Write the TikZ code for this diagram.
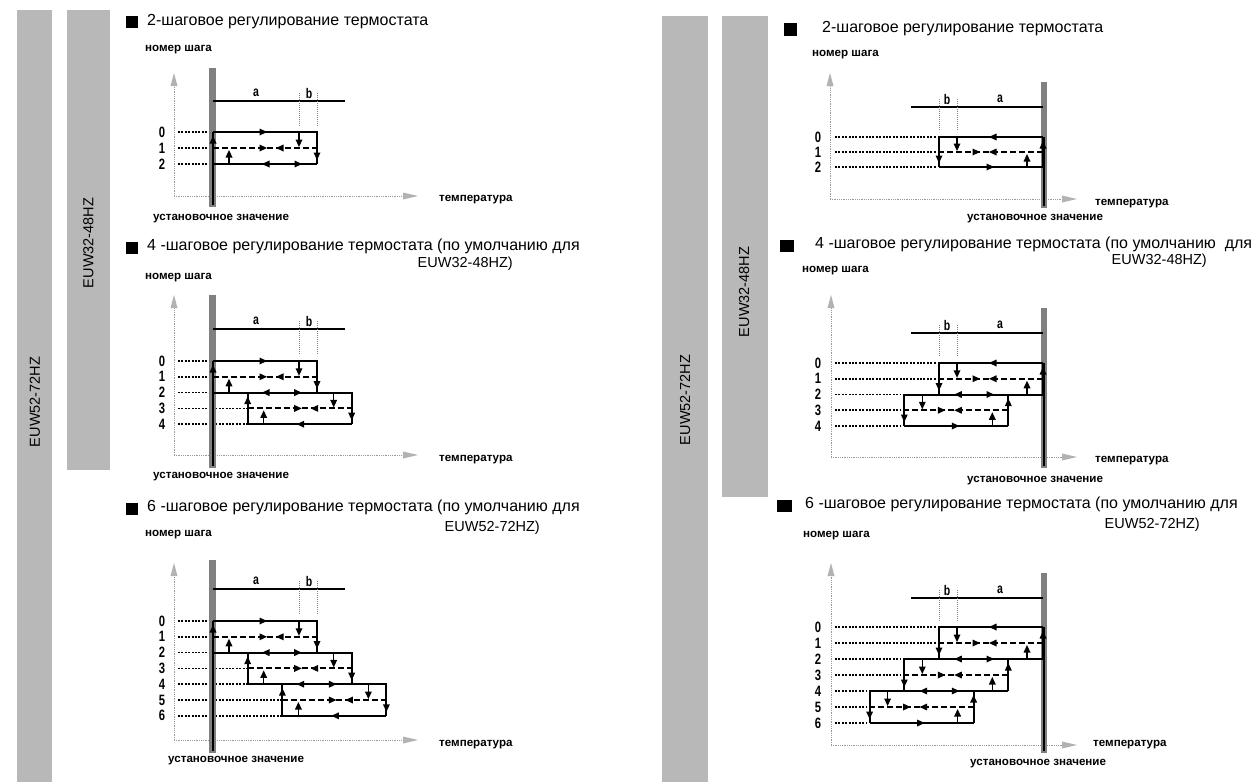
\documentclass[tikz,border=0pt]{standalone}
\usepackage{graphicx}
\usepackage{fontspec}
\setmainfont{Liberation Sans}
\def\dD{34.7}
\newcommand\arR[2]{\fill (#1+4,#2) -- ++(-7.5,-3.5) -- ++(0,7) -- cycle;}
\newcommand\arL[2]{\fill (#1-4,#2) -- ++(7.5,-3.5) -- ++(0,7) -- cycle;}
\newcommand\arU[2]{\fill (#1,#2-4) -- ++(-3.5,7.5) -- ++(7,0) -- cycle;}
\newcommand\arD[2]{\fill (#1,#2+4) -- ++(-3.5,-7.5) -- ++(7,0) -- cycle;}
\newcommand\nar[1]{\scalebox{0.75}[1]{#1}}
\newcommand\setdiag[6]{\def\dN{#1}\def\dRz{#2}\def\dDy{#3}\def\dTl{#4}\def\dBt{#5}\def\dBb{#6}}
\newcommand\axes[4]{%
 \draw[axisl] (#1,#3) -- (#1,#2+10);
 \fill[axhead] (#1,#2) -- ++(-3.5,13) -- ++(7,0) -- cycle;
 \draw[axisl] (#1,#3) -- (#4-10,#3);
 \fill[axhead] (#4,#3) -- ++(-15,-3.5) -- ++(0,7) -- cycle;}
\newcommand\core{%
 \pgfmathtruncatemacro\dNm{\dN-1}%
 \fill[setbar] (209,\dBt) rectangle (215.5,\dBb);
 \draw[loopline] (212.5,\dRz) -- (212.5,\dBb-2);
 \draw[aline] (213,\dTl) -- (345,\dTl);
 \draw[bdot] (299,\dTl-8) -- (299,\dRz-6);
 \draw[bdot] (317,\dTl-8) -- (317,\dRz-6);
 \node[ab] (la\dTl) at (256,\dTl-8) {\nar{a}};
 \node[ab] (lb\dTl) at (309,\dTl-8) {\nar{b}};
 \foreach \k in {0,...,\dNm}{%
  \pgfmathsetmacro\xL{213+\k*\dD}%
  \pgfmathsetmacro\xR{317+\k*\dD}%
  \pgfmathsetmacro\yt{\dRz+2*\k*\dDy}%
  \pgfmathsetmacro\ym{\dRz+(2*\k+1)*\dDy}%
  \pgfmathsetmacro\yb{\dRz+(2*\k+2)*\dDy}%
  \pgfmathsetmacro\xLs{\k>0 ? \xL-\dD : \xL}%
  \draw[loopline] (\xLs,\yt) -- (\xR,\yt) -- (\xR,\yb);
  \draw[loopline] (\xL,\yb) -- (\xL,\yt);
  \draw[dashline] (\xL,\ym) -- (\xR,\ym);
  \draw[stem] (299+\k*\dD,\yt) -- (299+\k*\dD,\ym-5);
  \arD{299+\k*\dD}{\ym-5}
  \draw[stem] (229+\k*\dD,\yb) -- (229+\k*\dD,\ym+6);
  \arU{229+\k*\dD}{\ym+6}
  \arR{263+\k*\dD}{\yt}
  \ifnum\k>0 \arL{266+\k*\dD-\dD}{\yt}\fi
  \arR{263+\k*\dD}{\ym}
  \arL{280+\k*\dD}{\ym}
  \arD{\xR}{\yb-8}
  \arU{\xL}{\yt+8}
 }%
 \pgfmathsetmacro\xL{213+\dNm*\dD}%
 \pgfmathsetmacro\xR{317+\dNm*\dD}%
 \pgfmathsetmacro\yb{\dRz+2*\dN*\dDy}%
 \draw[loopline] (\xL,\yb) -- (\xR,\yb);
 \arL{266+\dNm*\dD}{\yb}
}
\newcommand\rowsL{%
 \pgfmathtruncatemacro\dRn{2*\dN}%
 \foreach \r in {0,...,\dRn}{%
  \pgfmathsetmacro\yy{\dRz+\r*\dDy}%
  \pgfmathsetmacro\xe{213+max(0,ceil(\r/2)-1)*\dD}%
  \draw[dotline] (178,\yy) -- (\xe,\yy);
  \node[num] (n\dRz-\r) at (162,\yy) {\nar{\r}};
 }}
\newcommand\rowsR{%
 \pgfmathtruncatemacro\dRn{2*\dN}%
 \foreach \r in {0,...,\dRn}{%
  \pgfmathsetmacro\yy{\dRz+\r*\dDy}%
  \pgfmathsetmacro\xe{1256-317-min(\dN-1,floor(\r/2))*\dD-3}%
  \draw[dotline] (835,\yy) -- (\xe,\yy);
  \node[num] (m\dRz-\r) at (818,\yy) {\nar{\r}};
 }}
\tikzset{
 loopline/.style={line width=2pt},
 dashline/.style={line width=2pt, dash pattern=on 6pt off 3pt},
 dotline/.style={line width=1.7pt, dash pattern=on 2pt off 1.4pt},
 stem/.style={line width=1.1pt},
 aline/.style={line width=2.6pt},
 bdot/.style={draw=gray, line width=0.7pt, dash pattern=on 1pt off 1pt},
 axisl/.style={draw=gray!80, line width=0.8pt, dash pattern=on 1pt off 0.8pt},
 axhead/.style={fill=gray!60},
 setbar/.style={fill=black!50},
 sidebar/.style={fill=black!28},
 ttl/.style={anchor=mid west, inner sep=0pt, font=\fontsize{16}{18}\selectfont},
 ttlr/.style={anchor=mid east, inner sep=0pt, font=\fontsize{14.5}{18}\selectfont},
 lbl/.style={anchor=mid west, inner sep=0pt, font=\bfseries\fontsize{11.6}{14}\selectfont},
 num/.style={inner sep=0pt, font=\bfseries\fontsize{15}{17}\selectfont},
 ab/.style={inner sep=0pt, font=\bfseries\fontsize{14}{16}\selectfont},
 side/.style={rotate=90, inner sep=0pt, font=\fontsize{14.5}{16}\selectfont, text=black},
}
\begin{document}
\begin{tikzpicture}[x=1pt,y=-1pt]
\useasboundingbox (0,0) rectangle (1255,782);
\fill[white] (0,0) rectangle (1255,782);
% side bars
\fill[sidebar] (17,10) rectangle (52,782);
\fill[sidebar] (67,10) rectangle (110,470);
\fill[sidebar] (662,16) rectangle (708,782);
\fill[sidebar] (722,16) rectangle (768,497);
\node[side] (s1) at (35,402) {EUW52-72HZ};
\node[side] (s2) at (88.5,243) {EUW32-48HZ};
\node[side] (s3) at (685,400) {EUW52-72HZ};
\node[side] (s4) at (744,292) {EUW32-48HZ};
% ---- left 2-step
\fill (126,16) rectangle (138,28);
\node[ttl] (t1) at (147,23) {2-шаговое регулирование термостата};
\node[lbl] (h1) at (145,49) {номер шага};
\axes{174}{73}{196}{418}
\node[lbl] (T1) at (439,199) {температура};
\node[lbl] (S1) at (153,218) {установочное значение};
\setdiag{1}{132}{16}{101}{68}{207}
\rowsL
\core
\arR{298}{164}
% ---- left 4-step
\fill (126,242) rectangle (138,254);
\node[ttl] (t2) at (147,248) {4 -шаговое регулирование термостата (по умолчанию для};
\node[ttlr] (t2b) at (513,265) {EUW32-48HZ)};
\node[lbl] (h2) at (145,277) {номер шага};
\axes{174}{295}{455}{418}
\node[lbl] (T2) at (439,459) {температура};
\node[lbl] (S2) at (153,476) {установочное значение};
\setdiag{2}{361}{15.8}{329}{295}{468}
\rowsL
\core
% ---- left 6-step
\fill (126,503) rectangle (138,515);
\node[ttl] (t3) at (147,509) {6 -шаговое регулирование термостата (по умолчанию для};
\node[ttlr] (t3b) at (540,529) {EUW52-72HZ)};
\node[lbl] (h3) at (145,534) {номер шага};
\axes{174}{563}{740}{418}
\node[lbl] (T3) at (439,744) {температура};
\node[lbl] (S3) at (168,760) {установочное значение};
\setdiag{3}{621}{15.8}{589}{560}{753}
\rowsL
\core
% ---- right 2-step
\fill (784,23) rectangle (797,36);
\node[ttl] (t4) at (822,30) {2-шаговое регулирование термостата};
\node[lbl] (h4) at (812,54) {номер шага};
\axes{830}{73}{199}{1077}
\node[lbl] (T4) at (1095,203) {температура};
\node[lbl] (S4) at (967,218) {установочное значение};
\setdiag{1}{137}{15}{107}{82}{208}
\rowsR
\begin{scope}[xshift=1256pt,xscale=-1]\core\end{scope}
% ---- right 4-step
\fill (780,240) rectangle (794,252);
\node[ttl] (t5) at (815,246) {4 -шаговое регулирование термостата (по умолчанию\ \ для};
\node[ttlr] (t5b) at (1207,262) {EUW32-48HZ)};
\node[lbl] (h5) at (802,270) {номер шага};
\axes{831}{295}{457}{1077}
\node[lbl] (T5) at (1095,460) {температура};
\node[lbl] (S5) at (967,480) {установочное значение};
\setdiag{2}{363}{15.75}{333}{308}{468}
\rowsR
\begin{scope}[xshift=1256pt,xscale=-1]\core\end{scope}
% ---- right 6-step
\fill (777,500) rectangle (792,512);
\node[ttl] (t6) at (805,506) {6 -шаговое регулирование термостата (по умолчанию для};
\node[ttlr] (t6b) at (1200,526) {EUW52-72HZ)};
\node[lbl] (h6) at (803,535) {номер шага};
\axes{831}{563}{745}{1077}
\node[lbl] (T6) at (1093,744) {температура};
\node[lbl] (S6) at (970,763) {установочное значение};
\setdiag{3}{627}{16}{598}{573}{753}
\rowsR
\begin{scope}[xshift=1256pt,xscale=-1]\core\end{scope}
\end{tikzpicture}
\end{document}
